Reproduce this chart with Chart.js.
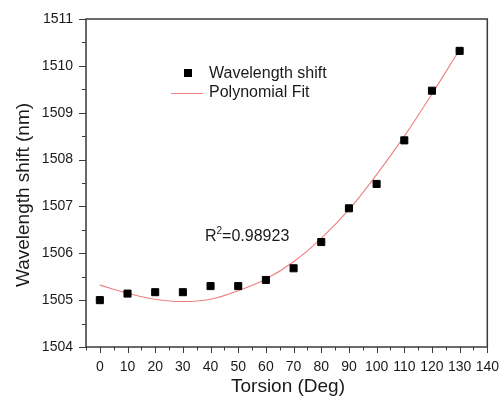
<!DOCTYPE html>
<html>
<head>
<meta charset="utf-8">
<script src="https://cdn.jsdelivr.net/npm/chart.js@4.4.1/dist/chart.umd.min.js"></script>
<style>
  html, body { margin: 0; padding: 0; background: #fff; }
  canvas { display: block; }
</style>
</head>
<body>
<canvas id="c" width="503" height="403"></canvas>
<script>
// ---- data ----
const torsion = [0, 10, 20, 30, 40, 50, 60, 70, 80, 90, 100, 110, 120, 130];
const wavelengthShift = [1505.00, 1505.14, 1505.17, 1505.17, 1505.30, 1505.30, 1505.43,
                         1505.68, 1506.24, 1506.96, 1507.48, 1508.41, 1509.47, 1510.32];
const fitTorsion = [0, 10, 20, 30, 40, 50, 60, 70, 80, 90, 100, 110, 120, 130];
const fitWavelength = [1505.32, 1505.15, 1505.02, 1504.97, 1505.02, 1505.20, 1505.45,
                       1505.82, 1506.32, 1506.93, 1507.68, 1508.50, 1509.40, 1510.35];
const xTickValues = [0, 10, 20, 30, 40, 50, 60, 70, 80, 90, 100, 110, 120, 130, 140];
const yTickValues = [1504, 1505, 1506, 1507, 1508, 1509, 1510, 1511];
const seriesNames = ['Wavelength shift', 'Polynomial Fit'];
const xTitle = 'Torsion (Deg)';
const yTitle = 'Wavelength shift (nm)';
const annotationParts = ['R', '2', '=0.98923'];

const FONT = '"Liberation Sans", Arial, sans-serif';
const TEXT = '#1a1a1a';
const AXIS = '#3a3a3a';
const FIT = '#ef7f7f';

const framePlugin = {
  id: 'frame',
  afterDraw(chart) {
    const ctx = chart.ctx;
    const a = chart.chartArea;
    const xs = chart.scales.x, ys = chart.scales.y;
    ctx.save();
    // frame
    ctx.strokeStyle = AXIS;
    ctx.lineWidth = 1.5;
    ctx.strokeRect(a.left, a.top, a.right - a.left, a.bottom - a.top);
    // y ticks (major + minor), outward
    ctx.lineWidth = 1;
    ctx.beginPath();
    yTickValues.forEach((v, i) => {
      const py = Math.round(ys.getPixelForValue(v)) + 0.5;
      ctx.moveTo(a.left - 7, py); ctx.lineTo(a.left, py);
      if (i < yTickValues.length - 1) {
        const pm = Math.round(ys.getPixelForValue((v + yTickValues[i + 1]) / 2)) + 0.5;
        ctx.moveTo(a.left - 4, pm); ctx.lineTo(a.left, pm);
      }
    });
    // x ticks
    xTickValues.forEach((v, i) => {
      const px = Math.round(xs.getPixelForValue(v)) + 0.5;
      ctx.moveTo(px, a.bottom); ctx.lineTo(px, a.bottom + 6);
      const prev = i === 0 ? v - 5 : (v + xTickValues[i - 1]) / 2;
      if (prev >= xs.min) {
        const pm = Math.round(xs.getPixelForValue(prev)) + 0.5;
        ctx.moveTo(pm, a.bottom); ctx.lineTo(pm, a.bottom + 3.5);
      }
    });
    ctx.stroke();

    // axis titles
    ctx.fillStyle = TEXT;
    ctx.font = '19px ' + FONT;
    ctx.textAlign = 'center';
    ctx.textBaseline = 'middle';
    ctx.fillText(xTitle, 288, 387);
    ctx.save();
    ctx.translate(24, 195);
    ctx.rotate(-Math.PI / 2);
    ctx.fillText(yTitle, 0, 0);
    ctx.restore();

    // legend
    ctx.font = '16px ' + FONT;
    ctx.textAlign = 'left';
    ctx.fillStyle = '#000';
    ctx.fillRect(184, 69, 8, 8);
    ctx.fillStyle = TEXT;
    ctx.fillText(seriesNames[0], 209, 74);
    ctx.strokeStyle = FIT;
    ctx.lineWidth = 1;
    ctx.beginPath();
    ctx.moveTo(171, 93.5); ctx.lineTo(203, 93.5);
    ctx.stroke();
    ctx.fillText(seriesNames[1], 209, 93);

    // annotation  R^2=0.98923
    let ax = 205;
    ctx.fillText(annotationParts[0], ax, 237);
    ax += ctx.measureText(annotationParts[0]).width;
    ctx.font = '10px ' + FONT;
    ctx.fillText(annotationParts[1], ax, 231);
    ax += ctx.measureText(annotationParts[1]).width;
    ctx.font = '16px ' + FONT;
    ctx.fillText(annotationParts[2], ax, 237);
    ctx.restore();
  }
};

new Chart(document.getElementById('c'), {
  type: 'scatter',
  data: {
    datasets: [
      {
        label: seriesNames[1],
        type: 'line',
        data: fitTorsion.map((x, i) => ({ x: x, y: fitWavelength[i] })),
        borderColor: FIT,
        borderWidth: 1.1,
        pointRadius: 0,
        tension: 0.4,
        fill: false,
        order: 2
      },
      {
        label: seriesNames[0],
        data: torsion.map((x, i) => ({ x: x, y: wavelengthShift[i] })),
        pointStyle: 'rect',
        pointRadius: 5,
        borderWidth: 1,
        backgroundColor: '#000',
        borderColor: '#000',
        order: 1
      }
    ]
  },
  options: {
    responsive: false,
    animation: false,
    layout: { padding: { left: 0, right: 13, top: 19, bottom: 0 } },
    plugins: { legend: { display: false }, tooltip: { enabled: false } },
    scales: {
      x: {
        type: 'linear',
        min: -5, max: 140,
        afterBuildTicks: (s) => { s.ticks = xTickValues.map(v => ({ value: v })); },
        afterFit: (s) => { s.height = 56; },
        grid: { display: false },
        border: { display: false },
        ticks: { color: TEXT, font: { family: FONT, size: 14 }, padding: 4, maxRotation: 0, autoSkip: false,
                 callback: (v) => String(v) }
      },
      y: {
        type: 'linear',
        min: 1504, max: 1511,
        afterBuildTicks: (s) => { s.ticks = yTickValues.map(v => ({ value: v })); },
        afterFit: (s) => { s.width = 86; },
        grid: { display: false },
        border: { display: false },
        ticks: { color: TEXT, font: { family: FONT, size: 14 }, padding: 5, autoSkip: false,
                 callback: (v) => String(v) }
      }
    }
  },
  plugins: [framePlugin]
});
</script>
</body>
</html>
